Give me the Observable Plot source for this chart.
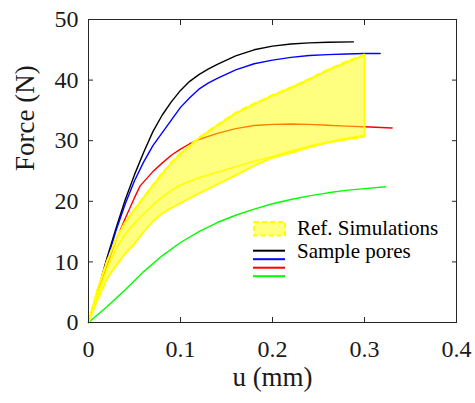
<!DOCTYPE html>
<html><head><meta charset="utf-8">
<script src="https://cdn.jsdelivr.net/npm/d3@7"></script>
<script src="https://cdn.jsdelivr.net/npm/@observablehq/plot@0.6"></script>
<style>
body{margin:0;background:#fff}
#wrap{position:relative;width:475px;height:403px;overflow:hidden}
#legend{position:absolute;left:0;top:0;pointer-events:none}
#chart svg text, #legend text{font-family:'Liberation Serif' !important}
</style></head>
<body><div id="wrap"><div id="chart"></div><svg id="legend" width="475" height="403"></svg></div>
<script>
const xTicks = [0, 0.1, 0.2, 0.3, 0.4];
const yTicks = [0, 10, 20, 30, 40, 50];
const xLabel = "u (mm)";
const yLabel = "Force (N)";
const legendLabels = ["Ref. Simulations", "Sample pores"];
const seriesColors = ["#000000", "#0000ff", "#ff0000", "#00ff00"];
const bandColor = "#ffff00";

const blackU = [0, 0.01, 0.02, 0.03, 0.04, 0.05, 0.06, 0.07, 0.08, 0.09, 0.1, 0.11, 0.12, 0.13, 0.14, 0.16, 0.18, 0.2, 0.22, 0.24, 0.26, 0.288];
const blackF = [0, 5.2, 10.6, 15.6, 20.3, 24.4, 28.1, 31.5, 34.2, 36.4, 38.3, 39.8, 40.9, 41.8, 42.6, 44.0, 45.0, 45.6, 45.95, 46.15, 46.25, 46.3];

const blueU = [0, 0.01, 0.02, 0.03, 0.04, 0.05, 0.06, 0.07, 0.08, 0.09, 0.1, 0.11, 0.12, 0.13, 0.14, 0.16, 0.18, 0.2, 0.22, 0.24, 0.26, 0.28, 0.3, 0.317];
const blueF = [0, 5.0, 10.2, 15.2, 19.6, 23.4, 26.5, 29.2, 31.3, 33.4, 35.5, 37.1, 38.5, 39.5, 40.3, 41.7, 42.7, 43.3, 43.75, 44.05, 44.2, 44.3, 44.38, 44.4];

const redU = [0, 0.01, 0.02, 0.03, 0.04, 0.05, 0.056, 0.06, 0.07, 0.08, 0.09, 0.1, 0.11, 0.12, 0.14, 0.16, 0.18, 0.2, 0.22, 0.24, 0.26, 0.28, 0.3, 0.33];
const redF = [0, 4.8, 9.5, 13.6, 17.2, 20.6, 22.5, 23.2, 24.9, 26.3, 27.6, 28.6, 29.5, 30.2, 31.2, 32.0, 32.5, 32.7, 32.75, 32.7, 32.55, 32.4, 32.3, 32.1];

const greenU = [0, 0.02, 0.04, 0.06, 0.08, 0.1, 0.12, 0.14, 0.16, 0.18, 0.2, 0.22, 0.24, 0.26, 0.28, 0.3, 0.323];
const greenF = [0, 2.6, 5.4, 8.4, 11.0, 13.2, 15.0, 16.5, 17.7, 18.7, 19.6, 20.3, 20.9, 21.4, 21.8, 22.1, 22.4];

const bandU =     [0, 0.01, 0.02, 0.03, 0.04, 0.05, 0.06, 0.07, 0.08, 0.09, 0.1, 0.12, 0.14, 0.16, 0.18, 0.2, 0.22, 0.24, 0.26, 0.28, 0.3];
const bandUpper = [0, 5.5, 10.0, 13.8, 16.5, 18.6, 20.6, 22.6, 24.5, 26.3, 27.8, 30.4, 32.5, 34.5, 36.0, 37.4, 38.7, 40.1, 41.6, 42.9, 44.1];
const bandLower = [0, 3.8, 7.2, 9.4, 11.4, 13.0, 15.0, 16.7, 18.0, 18.9, 19.7, 21.3, 22.8, 24.3, 25.9, 27.2, 28.0, 28.9, 29.7, 30.2, 30.7];
const bandMid =   [0, 4.6, 8.8, 12.2, 14.6, 16.4, 17.9, 19.4, 20.7, 21.8, 22.7, 23.9, 24.8, 25.7, 26.6, 27.4, 28.3, 29.1, 29.8, 30.4, 30.9];

const pts = (u, f) => u.map((x, i) => ({u: x, f: f[i]}));
const curves = [pts(blackU, blackF), pts(blueU, blueF), pts(redU, redF), pts(greenU, greenF)];
const band = bandU.map((x, i) => ({u: x, hi: bandUpper[i], lo: bandLower[i], mid: bandMid[i]}));

const axisColor = "#262626";
const noText = () => "";
const serif = "Liberation Serif";

const plot = Plot.plot({
  width: 475, height: 403,
  marginLeft: 88, marginRight: 19, marginTop: 19, marginBottom: 81,
  x: {domain: [0, 0.4]},
  y: {domain: [0, 50]},
  style: {fontFamily: "'Liberation Serif'", fontSize: "24px", color: "#1a1a1a", background: "#fff"},
  marks: [
    ...curves.map((c, i) => Plot.line(c, {x: "u", y: "f", stroke: seriesColors[i], strokeWidth: 1.4})),
    Plot.areaY(band, {x: "u", y1: "lo", y2: "hi", fill: bandColor, fillOpacity: 0.5}),
    Plot.line(band, {x: "u", y: "hi", stroke: bandColor, strokeWidth: 1.2, strokeDasharray: "6,4", dy: -1.2}),
    Plot.line(band, {x: "u", y: "mid", stroke: bandColor, strokeWidth: 1.6}),
    Plot.line(band, {x: "u", y: "hi", stroke: bandColor, strokeWidth: 2}),
    Plot.line(band, {x: "u", y: "lo", stroke: bandColor, strokeWidth: 2}),
    Plot.ruleX(band.slice(-1), {x: "u", y1: "lo", y2: "hi", stroke: bandColor, strokeWidth: 2}),
    Plot.frame({stroke: axisColor, strokeWidth: 1}),
    Plot.axisX(xTicks, {anchor: "bottom", tickSize: 5, dy: -5, tickFormat: noText, label: null, stroke: axisColor}),
    Plot.axisX(xTicks, {anchor: "top", tickSize: 5, dy: 5, tickFormat: noText, label: null, stroke: axisColor}),
    Plot.axisY(yTicks, {anchor: "left", tickSize: 5, dx: 5, tickFormat: noText, label: null, stroke: axisColor}),
    Plot.axisY(yTicks, {anchor: "right", tickSize: 5, dx: -5, tickFormat: noText, label: null, stroke: axisColor}),
    Plot.axisX(xTicks, {anchor: "bottom", tickSize: 0, tickPadding: 17, tickFormat: d => String(d), label: null, fontFamily: serif}),
    Plot.axisY(yTicks, {anchor: "left", tickSize: 0, tickPadding: 10, tickFormat: d => String(d), label: null, fontFamily: serif}),
    Plot.text([xLabel], {text: d => d, frameAnchor: "bottom", lineAnchor: "bottom", dy: 63, fontSize: 27, fontFamily: serif}),
    Plot.text([yLabel], {text: d => d, frameAnchor: "left", lineAnchor: "bottom", rotate: -90, dx: -55, fontSize: 27, fontFamily: serif})
  ]
});
document.getElementById("chart").appendChild(plot);

// legend overlay
const lg = d3.select("#legend");
lg.append("rect").attr("x", 254).attr("y", 222).attr("width", 31).attr("height", 13.5)
  .attr("fill", "#ffff80").attr("stroke", bandColor).attr("stroke-width", 2).attr("stroke-dasharray", "5,3");
lg.selectAll("line.s").data(seriesColors).join("line")
  .attr("x1", 253).attr("x2", 285)
  .attr("y1", (d, i) => 250.7 + i * 8.5).attr("y2", (d, i) => 250.7 + i * 8.5)
  .attr("stroke", d => d).attr("stroke-width", 2);
lg.selectAll("text").data(legendLabels).join("text")
  .attr("x", 297).attr("y", (d, i) => 235 + i * 23.3)
  .attr("font-family", serif).attr("font-size", 21).attr("fill", "#000")
  .text(d => d);
</script></body></html>
